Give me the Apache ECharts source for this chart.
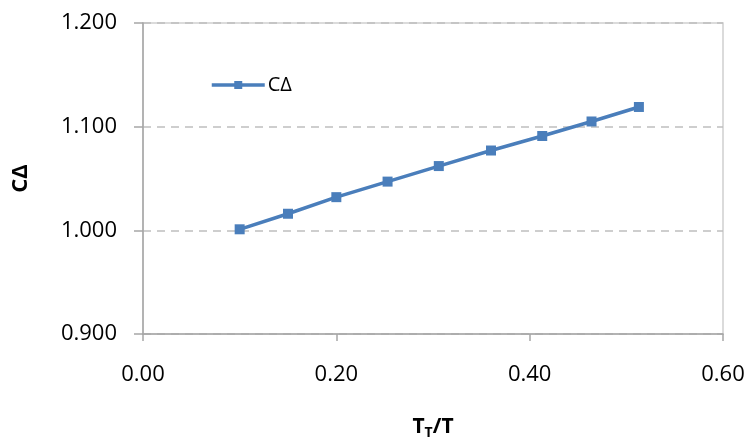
<!DOCTYPE html>
<html>
<head>
<meta charset="utf-8">
<script src="https://cdn.jsdelivr.net/npm/echarts@6/dist/echarts.min.js"></script>
<style>
  html, body { margin: 0; padding: 0; background: #fff; }
  #chart { width: 750px; height: 445px; }
</style>
</head>
<body>
<div id="chart"></div>
<script>
// Ratio T_T/T and the corresponding CΔ factor
const seriesName = 'CΔ';
const ratioValues = [0.100, 0.150, 0.200, 0.253, 0.306, 0.360, 0.413, 0.464, 0.513];
const cDeltaValues = [1.001, 1.016, 1.032, 1.047, 1.062, 1.077, 1.091, 1.105, 1.119];

const xMin = 0, xMax = 0.6, xStep = 0.2;
const yMin = 0.9, yMax = 1.2, yStep = 0.1;

const points = ratioValues.map((x, i) => [x, cDeltaValues[i]]);

const font = 'Open Sans';
const blue = '#4A7EBB';
const gray = '#A6A6A6';

const chart = echarts.init(document.getElementById('chart'));
chart.setOption({
  animation: false,
  grid: { left: 143, right: 27, top: 23, bottom: 105, show: true, borderColor: '#CFCFCF', borderWidth: 1.5 },
  legend: {
    left: 205, top: 70,
    itemWidth: 53, itemHeight: 10, itemGap: 10,
    textStyle: { fontFamily: font, fontSize: 20, color: '#000', padding: [0, 0, 0, -2] },
    lineStyle: { width: 3.5 },
    data: [seriesName]
  },
  xAxis: {
    type: 'value', min: xMin, max: xMax, interval: xStep,
    name: '{b|T}{s|T}{b|/T}',
    nameLocation: 'middle', nameGap: 80,
    nameTextStyle: {
      rich: {
        b: { fontFamily: font, fontSize: 21, fontWeight: 'bold', color: '#000' },
        s: { fontFamily: font, fontSize: 14, fontWeight: 'bold', color: '#000', padding: [12, 0, 0, 0] }
      }
    },
    axisLine: { lineStyle: { color: gray, width: 1.5 } },
    axisTick: { show: true, length: 7, lineStyle: { color: gray, width: 1.5 } },
    axisLabel: { fontFamily: font, fontSize: 22, color: '#000', margin: 30, formatter: v => v.toFixed(2) },
    splitLine: { show: false }
  },
  yAxis: {
    type: 'value', min: yMin, max: yMax, interval: yStep,
    name: 'CΔ',
    nameLocation: 'middle', nameGap: 111, nameRotate: 90,
    nameTextStyle: { fontFamily: font, fontSize: 22, fontWeight: 'bold', color: '#000' },
    axisLine: { show: true, lineStyle: { color: gray, width: 1.5 } },
    axisTick: { show: true, length: 9, lineStyle: { color: gray, width: 1.5 } },
    axisLabel: { fontFamily: font, fontSize: 22, color: '#000', margin: 26, formatter: v => v.toFixed(3) },
    splitLine: { show: true, lineStyle: { color: '#BFBFBF', type: [8, 6], width: 1.5 } }
  },
  series: [{
    name: seriesName,
    type: 'line',
    data: points,
    symbol: 'rect',
    symbolSize: 10,
    lineStyle: { color: blue, width: 3.5 },
    itemStyle: { color: blue }
  }]
});
</script>
</body>
</html>
